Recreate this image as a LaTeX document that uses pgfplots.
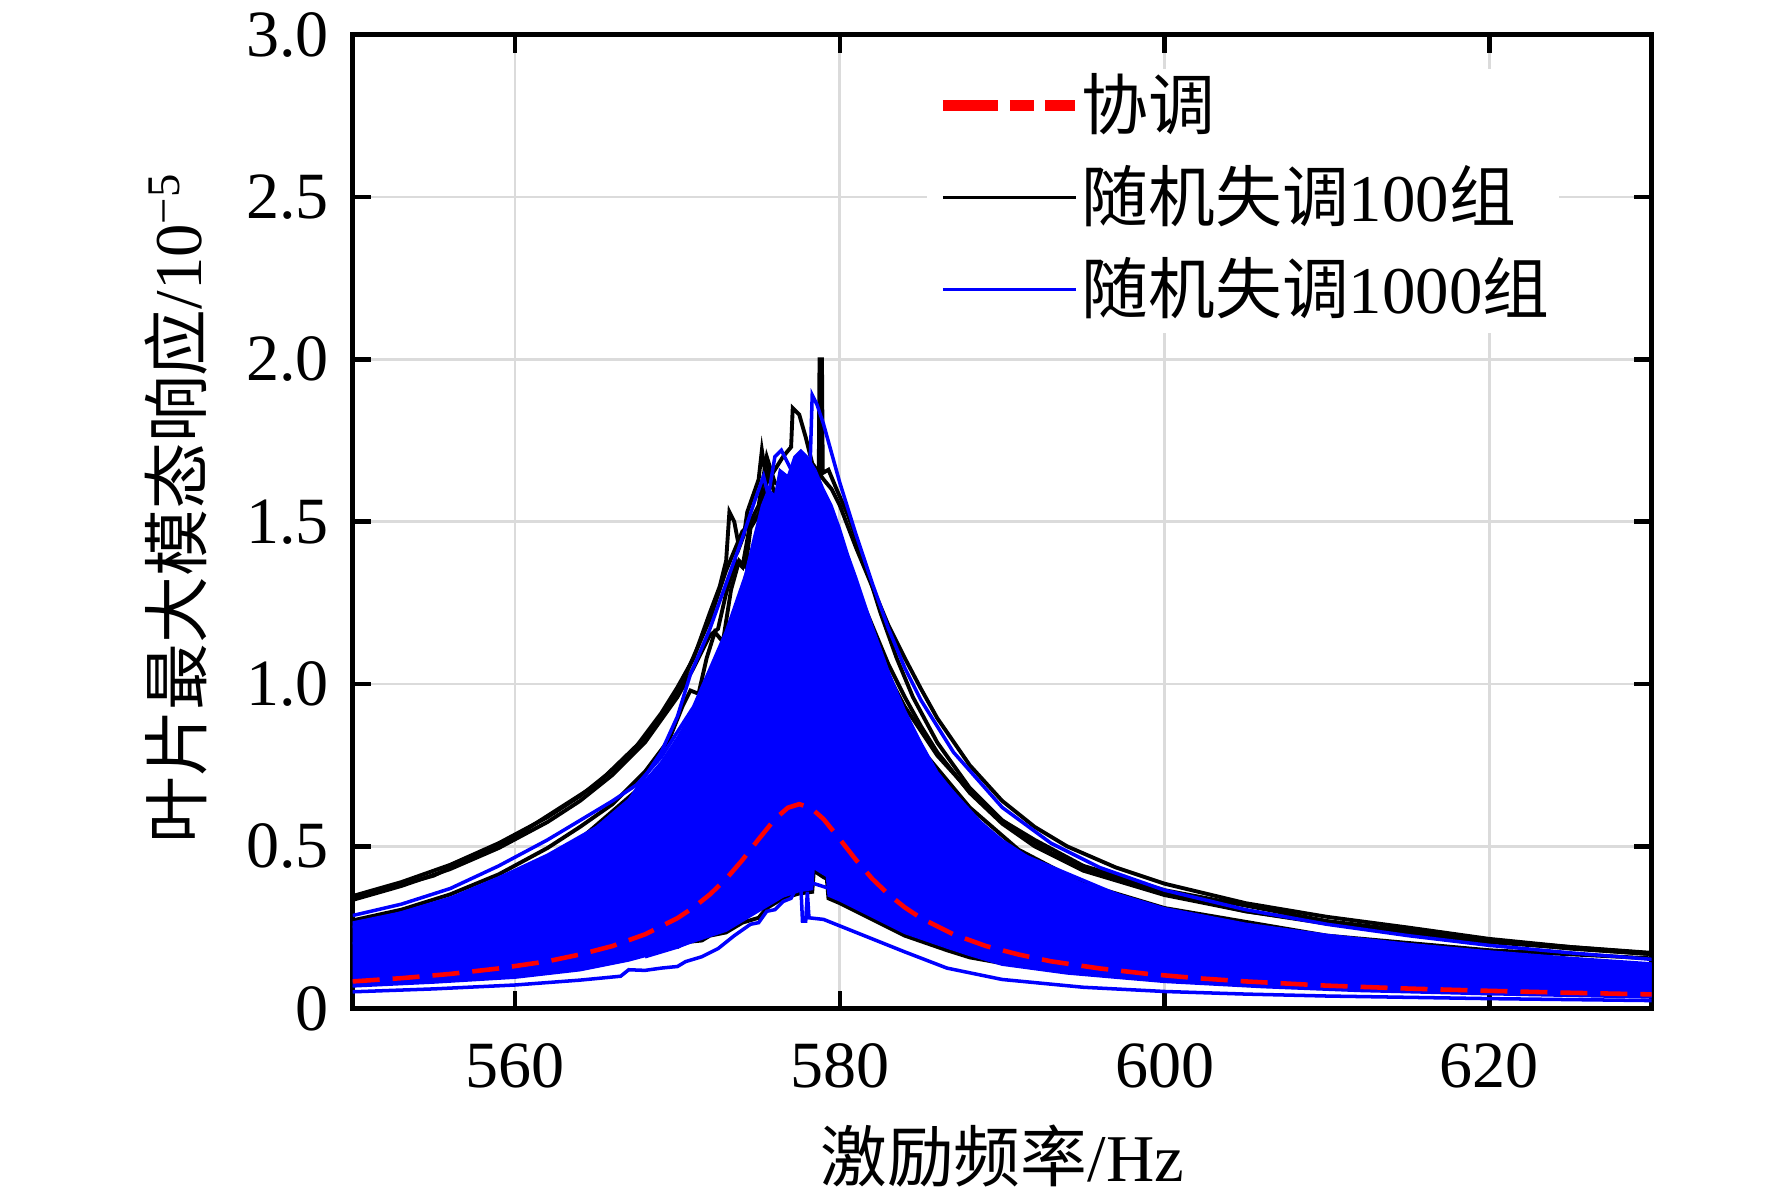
\documentclass[border=0pt]{standalone}
\usepackage{fontspec}
\setmainfont{Liberation Serif}
\newfontfamily\cjk{Noto Sans CJK SC}
\usepackage{pgfplots}
\pgfplotsset{compat=1.18}
\begin{document}
\fontsize{19pt}{23pt}\selectfont
\begin{tikzpicture}
\useasboundingbox (-35.27mm,-19.53mm) rectangle (141.93mm,100.87mm);
\begin{axis}[
  at={(0,0)}, anchor=south west,
  scale only axis, width=129.9mm, height=97.4mm,
  xmin=550, xmax=630, ymin=0, ymax=3,
  xtick={560,580,600,620}, xticklabels={560,580,600,620},
  ytick={0,0.5,1,1.5,2,2.5,3}, yticklabels={0,0.5,1.0,1.5,2.0,2.5,3.0},
  /pgf/number format/assume math mode=true,
  tick label style={font=\fontsize{18.8pt}{22pt}\selectfont},
  xticklabel style={anchor=north, inner sep=0pt, yshift=-3.4mm},
  yticklabel style={anchor=east, inner sep=0pt, xshift=-2.3mm},
  axis line style={line width=1.3pt},
  every tick/.style={black, line width=1.3pt},
  major tick length=1.8mm,
  tick align=inside, tick pos=both,
  grid=major, grid style={line width=0.8pt, color=black!14},
  xlabel={{\cjk 激励频率}/Hz},
  ylabel={{\cjk 叶片最大模态响应}/10\textsuperscript{\char"2212 5}},
  xlabel style={at={(axis description cs:0.5,-0.151)}, anchor=center},
  ylabel style={at={(axis description cs:-0.136,0.514)}, anchor=center},
  legend style={at={(0.4414,0.965)}, anchor=north west, draw=none, fill=white,
    inner xsep=1mm, inner ysep=0.7mm, row sep=2.6mm,
    font=\fontsize{19pt}{23pt}\selectfont,
    nodes={inner sep=0pt, text height=5.3mm, text depth=1.3mm},
    /tikz/every even column/.append style={column sep=1.65mm}},
  legend cell align=left,
  legend image code/.code={\draw[#1] (0mm,0.4mm) -- (13.3mm,0.4mm);},
]
\addlegendimage{red, line width=3.4pt, dash pattern=on 5.5mm off 1.2mm on 2.4mm off 1.1mm on 3mm}
\addlegendentry{{\cjk 协调}}
\addlegendimage{black, line width=1.1pt}
\addlegendentry{{\cjk 随机失调}100{\cjk 组}}
\addlegendimage{blue, line width=1.1pt}
\addlegendentry{{\cjk 随机失调}1000{\cjk 组}}

% ---- random mistuning, 100 groups (black) ----
\addplot[black, line width=1.1pt, forget plot] coordinates {
(550,0.347) (553,0.39) (556,0.443) (559,0.51) (562,0.59) (564,0.655) (566,0.735) (567.5,0.81) (569,0.91) (570,0.99) (571,1.08) (572,1.22) (572.6,1.30) (573,1.38) (573.2,1.53) (573.5,1.50) (573.8,1.42) (574.1,1.46) (574.3,1.53) (575,1.63) (575.2,1.72) (575.5,1.62) (576,1.66) (576.5,1.70) (577.0,1.73) (577.1,1.85) (577.5,1.83) (577.9,1.76) (578.3,1.68) (579,1.63) (579.5,1.60) (580,1.55) (581,1.42) (582,1.30) (583,1.18) (584,1.08) (585,0.985) (586,0.895) (588,0.75) (590,0.64) (592,0.56) (594,0.50) (597,0.435) (600,0.385) (605,0.325) (610,0.283) (615,0.25) (620,0.215) (625,0.19) (630,0.172)};
\addplot[black, line width=1.1pt, forget plot] coordinates {
(550,0.335) (553,0.378) (556,0.43) (559,0.495) (562,0.575) (564,0.64) (566,0.72) (568,0.82) (570,0.96) (571,1.05) (572,1.15) (572.5,1.17) (573,1.28) (573.6,1.38) (574,1.36) (574.5,1.50) (575,1.55) (575.5,1.70) (576,1.62) (577,1.60) (578,1.55) (579,1.50) (580,1.42) (581,1.30) (582,1.18) (583,1.06) (584,0.96) (585,0.87) (586,0.79) (588,0.665) (590,0.57) (592,0.50) (595,0.425) (600,0.35) (605,0.30) (610,0.265) (615,0.235) (620,0.21) (625,0.185) (630,0.168)};
\addplot[black, line width=1.1pt, forget plot] coordinates {
(550,0.34) (555,0.41) (560,0.53) (565,0.69) (568,0.835) (570,0.97) (572,1.20) (573,1.35) (574,1.47) (575,1.52) (575.4,1.60) (576,1.50) (578,1.50) (580,1.35) (582,1.12) (584,0.93) (586,0.78) (588,0.67) (590,0.58) (592,0.52) (595,0.44) (600,0.365) (610,0.27) (620,0.21) (630,0.17)};
\addplot[black, line width=1.1pt, forget plot] coordinates {
(550,0.272) (553,0.305) (556,0.352) (559,0.414) (562,0.495) (564,0.56) (566,0.63) (568,0.73) (569.5,0.83) (570.3,0.93) (570.8,0.98) (571.3,0.97) (571.8,1.08) (572.3,1.16) (572.8,1.13) (573.3,1.29) (573.8,1.38) (574.2,1.36) (574.5,1.48) (575.2,1.54) (575.6,1.66) (576,1.58) (577,1.55) (578,1.48) (579.5,1.35) (581,1.15) (583,0.96) (585,0.80) (588,0.62) (591,0.49) (595,0.385) (600,0.31) (610,0.225) (620,0.18) (630,0.155)};
\addplot[black, line width=1.1pt, forget plot] coordinates {
(550,0.21) (560,0.35) (570,0.78) (575,1.30) (578,1.60) (578.7,1.62) (578.75,2.0) (578.9,2.0) (578.95,1.65) (579.3,1.66) (579.8,1.60) (580.5,1.52) (581.5,1.38) (582.5,1.22) (583.5,1.08) (584.5,0.96) (586,0.82) (588,0.68) (590,0.58) (593,0.48) (596,0.415) (600,0.355) (605,0.30) (610,0.262) (620,0.205) (630,0.168)};
\addplot[black, line width=1.1pt, forget plot] coordinates {
(550,0.09) (556,0.105) (562,0.128) (566,0.155) (568.5,0.175) (569,0.19) (570,0.19) (570.5,0.205) (571.5,0.21) (572,0.225) (573,0.235) (574,0.265) (575,0.28) (575.5,0.31) (576.5,0.34) (577.5,0.355) (578.3,0.36) (578.4,0.425) (579,0.405) (579.2,0.40) (579.3,0.34) (580,0.325) (582,0.275) (584,0.225) (586.6,0.18) (588,0.158) (590,0.14) (595,0.112) (600,0.094) (610,0.072) (620,0.058) (630,0.048)};

% ---- random mistuning, 1000 groups (blue): dense band of curves ----
\addplot[fill=blue, draw=blue, line width=0.6pt, forget plot] coordinates {
(550,0.266) (553,0.297) (556,0.342) (559,0.405) (562,0.475) (565,0.56) (567,0.645) (569,0.76) (570,0.836) (571,0.92) (572,1.03) (573,1.15) (574,1.30) (574.7,1.45) (575.2,1.55) (575.6,1.60) (576,1.58) (576.3,1.66) (576.8,1.64) (577.2,1.70) (577.6,1.72) (578,1.70) (578.5,1.66) (579,1.60) (579.5,1.55) (580,1.48) (580.5,1.40) (581,1.33) (582,1.18) (583,1.04) (584,0.92) (585,0.82) (586,0.73) (588,0.605) (590,0.52) (592,0.455) (595,0.385) (600,0.31) (605,0.262) (610,0.228) (615,0.20) (620,0.177) (625,0.157) (630,0.14)
(630,0.034) (620,0.044) (612,0.054) (606,0.066) (600,0.082) (594,0.108) (590,0.135) (588,0.165) (586.6,0.188) (584,0.233) (582,0.283) (580,0.333) (579.3,0.348) (579.2,0.408) (578.4,0.433) (578.3,0.368) (577.5,0.362) (576.5,0.345) (575.5,0.315) (574,0.27) (573,0.24) (571.5,0.215) (570,0.19) (569,0.175) (567,0.148) (564,0.118) (560,0.095) (555,0.08) (550,0.068)};
\addplot[blue, line width=1.0pt, forget plot] coordinates {
(550,0.287) (553,0.322) (556,0.37) (559,0.44) (562,0.52) (564,0.58) (566,0.64) (567.5,0.69) (569,0.775) (571,0.93) (573,1.16) (575,1.45) (577,1.6) (578,1.58) (580,1.38) (583,1.0) (586,0.72) (590,0.50) (600,0.29) (615,0.18) (630,0.13)};
\addplot[blue, line width=1.0pt, forget plot] coordinates {
(550,0.25) (560,0.40) (565,0.54) (567,0.64) (569,0.79) (570,0.90) (570.8,1.03) (572,1.17) (573,1.31) (574,1.45) (574.8,1.57) (575.3,1.64) (575.6,1.58) (576,1.70) (576.4,1.72) (577,1.66) (578,1.55) (580,1.30) (582,1.05) (585,0.78) (590,0.48) (600,0.27) (615,0.17) (630,0.125)};
\addplot[blue, line width=1.0pt, forget plot] coordinates {
(550,0.20) (560,0.33) (566,0.52) (570,0.75) (573,1.05) (576,1.45) (577.5,1.60) (578.15,1.64) (578.3,1.89) (578.6,1.86) (579,1.80) (580,1.62) (581,1.46) (582,1.31) (583,1.17) (584,1.05) (585,0.95) (587,0.79) (590,0.62) (593,0.51) (596,0.435) (600,0.365) (605,0.305) (610,0.26) (615,0.225) (620,0.195) (625,0.172) (630,0.152)};
\addplot[blue, line width=1.0pt, forget plot] coordinates {
(550,0.052) (555,0.061) (560,0.073) (564,0.088) (566.5,0.10) (567,0.12) (568,0.118) (569,0.125) (570,0.13) (570.5,0.145) (571.5,0.16) (572.5,0.185) (573.5,0.225) (574.5,0.26) (575,0.265) (575.5,0.30) (576,0.305) (576.5,0.33) (577,0.34) (577.4,0.38) (577.6,0.38) (577.7,0.27) (577.9,0.27) (578,0.36) (578.1,0.28) (579,0.275) (580,0.255) (582,0.215) (584,0.175) (586.6,0.125) (590,0.09) (595,0.066) (600,0.053) (605,0.045) (610,0.039) (620,0.031) (630,0.025)};
\addplot[blue, line width=1.0pt, forget plot] coordinates {
(568,0.16) (570,0.19) (572,0.23) (575,0.33) (577.5,0.40) (580,0.36) (585,0.22) (590,0.14) (600,0.09) (630,0.04)};

% ---- tuned (red dashed) ----
\addplot[red, line width=1.3pt, dash pattern=on 2.7mm off 1.3mm, forget plot] coordinates {
(550,0.084) (553,0.094) (556,0.107) (559,0.124) (562,0.146) (564,0.167) (566,0.193) (568,0.229) (570,0.279) (571,0.312) (572,0.352) (573,0.400) (574,0.458) (575,0.522) (576,0.584) (576.8,0.619) (577.5,0.630) (578.2,0.619) (579,0.584) (580,0.522) (581,0.458) (582,0.400) (583,0.352) (584,0.312) (585,0.279) (587,0.229) (589,0.193) (591,0.167) (593,0.146) (596,0.124) (599,0.107) (602,0.094) (605,0.084) (610,0.071) (615,0.062) (620,0.055) (625,0.049) (630,0.044)};
\end{axis}
\end{tikzpicture}
\end{document}
